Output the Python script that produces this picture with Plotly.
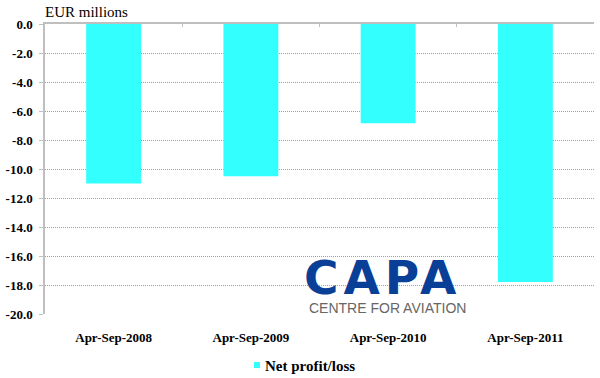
import plotly.graph_objects as go

categories = ["Apr-Sep-2008", "Apr-Sep-2009", "Apr-Sep-2010", "Apr-Sep-2011"]
net_profit_loss = [-11.0, -10.5, -6.85, -17.8]
series_name = "Net profit/loss"
y_ticks = [0, -2, -4, -6, -8, -10, -12, -14, -16, -18, -20]
y_tick_labels = [f"{v:.1f}" for v in y_ticks]
unit_label = "EUR millions"

BAR = "#33FFFF"
SERIF = "Liberation Serif, Times New Roman, serif"

fig = go.Figure()
fig.add_trace(go.Bar(x=categories, y=net_profit_loss, name=series_name,
                     marker=dict(color=BAR, line=dict(width=0)), showlegend=False))
# helper trace so the top boundary axis is drawn
fig.add_trace(go.Scatter(x=[None], y=[None], xaxis="x2", yaxis="y",
                         showlegend=False, hoverinfo="skip"))

fig.update_layout(
    width=600, height=378,
    margin=dict(l=45, r=6, t=24, b=64, autoexpand=False),
    paper_bgcolor="white", plot_bgcolor="white",
    bargap=0.6,
    showlegend=False,
    xaxis=dict(type="category", showline=False, showgrid=False, ticks="",
               tickfont=dict(family=SERIF, size=13, color="#000000", weight="bold"),
               ticklabelstandoff=14, zeroline=False, automargin=False),
    xaxis2=dict(overlaying="x", side="top", anchor="y", range=[-0.5, 3.5],
                tickvals=[-0.5, 0.5, 1.5, 2.5, 3.5], ticks="inside", ticklen=3,
                tickcolor="#BFBFBF", showticklabels=False, showline=True,
                linecolor="#BFBFBF", linewidth=1.5, showgrid=False, zeroline=False,
                automargin=False),
    yaxis=dict(range=[-20, 0], tickvals=y_ticks, ticktext=y_tick_labels,
               showline=True, linecolor="#BFBFBF", linewidth=1.5,
               ticks="outside", ticklen=4, tickcolor="#BFBFBF",
               showgrid=True, gridcolor="#A0A0A0", griddash="1px,1px", gridwidth=1,
               zeroline=False, ticklabelstandoff=4, automargin=False,
               tickfont=dict(family=SERIF, size=13, color="#000000", weight="bold")),
)

fig.add_annotation(text=unit_label, xref="paper", yref="paper", x=-0.004, y=1.04,
                   xanchor="left", yanchor="middle", showarrow=False,
                   font=dict(family=SERIF, size=15, color="#000000"))

# legend drawn manually (small square swatch)
fig.add_shape(type="rect", xref="paper", yref="paper", x0=0.3807, x1=0.3916,
              y0=-0.1862, y1=-0.1655, fillcolor=BAR, line=dict(width=0))
fig.add_annotation(text=f"<b>{series_name}</b>", xref="paper", yref="paper",
                   x=0.397, y=-0.179, xanchor="left", yanchor="middle", showarrow=False,
                   font=dict(family=SERIF, size=15, color="#000000"))

# CAPA logo
fig.add_annotation(text='<b><span style="letter-spacing:5px">CAPA</span></b>',
                   xref="paper", yref="paper", x=0.614, y=0.127,
                   xanchor="center", yanchor="middle", showarrow=False,
                   font=dict(family="DejaVu Sans", size=47, color="#0A3F98"))
fig.add_annotation(text="CENTRE FOR AVIATION", xref="paper", yref="paper",
                   x=0.623, y=0.021, xanchor="center", yanchor="middle", showarrow=False,
                   font=dict(family="Liberation Sans, Arial, sans-serif", size=14, color="#666666"))

fig.write_html("out.html", config={"displayModeBar": False},
               post_script="document.body.style.margin='0';")
